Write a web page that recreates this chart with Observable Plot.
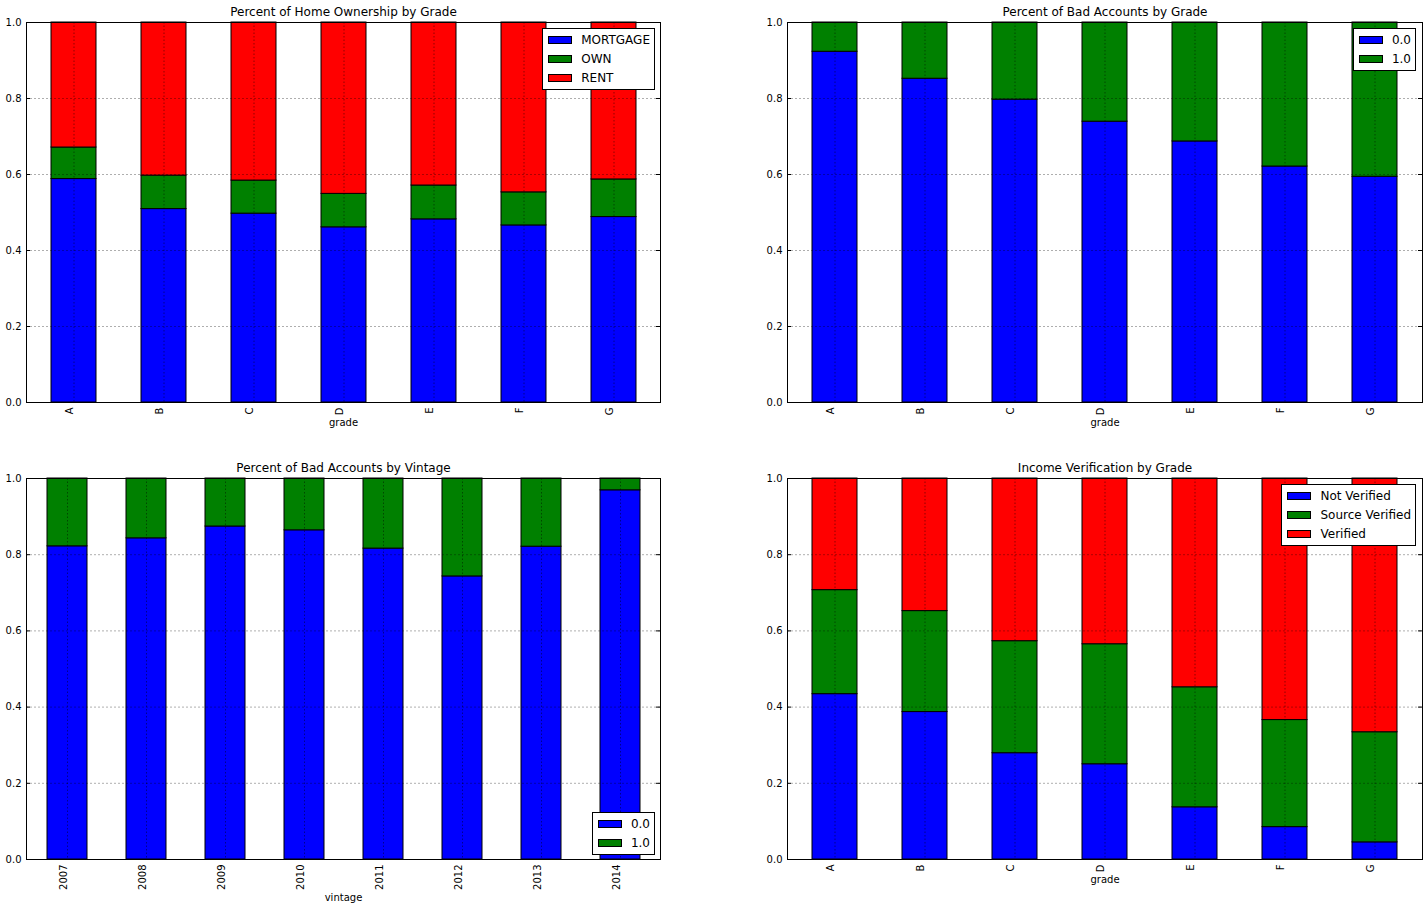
<!DOCTYPE html>
<html><head><meta charset="utf-8">
<script src="https://cdn.jsdelivr.net/npm/d3@7"></script>
<script src="https://cdn.jsdelivr.net/npm/@observablehq/plot@0.6"></script>
<style>
html,body{margin:0;padding:0;background:#fff;}
#page{position:relative;width:1428px;height:909px;overflow:hidden;font-family:"DejaVu Sans",sans-serif;background:#fff;}
.panel{position:absolute;}
.panel svg{max-width:none;}
.legend{position:absolute;background:#fff;border:1px solid #000;box-sizing:border-box;font-size:12px;color:#000;padding:1px 4px 2px 0;}
.legend .row{height:19px;display:flex;align-items:center;white-space:nowrap;}
.legend .sw{width:24px;height:8px;border:1px solid #000;box-sizing:border-box;margin-left:5px;margin-right:9px;flex:none;}
</style></head>
<body><div id="page"></div>
<script>
// ---- data ----
const grades = ["A", "B", "C", "D", "E", "F", "G"];
const vintages = ["2007", "2008", "2009", "2010", "2011", "2012", "2013", "2014"];
const yTicks = [0, 0.2, 0.4, 0.6, 0.8, 1.0];
const seriesColors = ["#0000ff", "#008000", "#ff0000"];

const homeSeries = ["MORTGAGE", "OWN", "RENT"];
const homeMortgage = [0.588, 0.509, 0.497, 0.461, 0.482, 0.466, 0.488];
const homeOwn      = [0.083, 0.088, 0.087, 0.088, 0.089, 0.087, 0.099];
const homeRent     = [0.329, 0.403, 0.416, 0.451, 0.429, 0.447, 0.413];

const badSeries = ["0.0", "1.0"];
const badGrade0 = [0.923, 0.852, 0.797, 0.739, 0.687, 0.621, 0.594];
const badGrade1 = [0.077, 0.148, 0.203, 0.261, 0.313, 0.379, 0.406];

const badVintage0 = [0.822, 0.843, 0.874, 0.864, 0.816, 0.743, 0.821, 0.969];
const badVintage1 = [0.178, 0.157, 0.126, 0.136, 0.184, 0.257, 0.179, 0.031];

const verifSeries = ["Not Verified", "Source Verified", "Verified"];
const verifNot      = [0.434, 0.387, 0.279, 0.250, 0.137, 0.085, 0.045];
const verifSource   = [0.273, 0.265, 0.294, 0.315, 0.315, 0.281, 0.289];
const verifVerified = [0.293, 0.348, 0.427, 0.435, 0.548, 0.634, 0.666];

const titles = ["Percent of Home Ownership by Grade", "Percent of Bad Accounts by Grade",
                "Percent of Bad Accounts by Vintage", "Income Verification by Grade"];
const xLabels = ["grade", "grade", "vintage", "grade"];

// ---- drawing ----
const page = document.getElementById("page");
const FONT = '"DejaVu Sans", sans-serif';

function panel(cfg) {
  const {left, top, width, height, mL, mR, mT, mB, cats, series, values, title, xLabel, xLabelDy} = cfg;
  const rows = [];
  series.forEach((s, i) => cats.forEach((c, j) => rows.push({cat: c, series: s, value: values[i][j]})));
  const fw = width - mL - mR;
  const chart = Plot.plot({
    width, height, marginLeft: mL, marginRight: mR, marginTop: mT, marginBottom: mB,
    style: {fontFamily: FONT, fontSize: "10px", background: "#fff", color: "#000", overflow: "visible"},
    x: {type: "band", domain: cats, paddingInner: 0.5, paddingOuter: 0.25, align: 0.5, label: null},
    y: {domain: [0, 1], label: null},
    color: {domain: series, range: seriesColors.slice(0, series.length)},
    marks: [
      Plot.barY(rows, {x: "cat", y: "value", fill: "series", stroke: "#000", strokeWidth: 1}),
      Plot.gridY(yTicks, {stroke: "#000", strokeOpacity: 0.4, strokeWidth: 0.8, strokeDasharray: "2,2"}),
      Plot.gridX(cats, {stroke: "#000", strokeOpacity: 0.55, strokeWidth: 0.8, strokeDasharray: "1.5,2"}),
      Plot.ruleY(yTicks, {insetRight: fw - 4, stroke: "#000"}),
      Plot.ruleY(yTicks, {insetLeft: fw - 4, stroke: "#000"}),
      Plot.frame({stroke: "#000", strokeWidth: 1}),
      Plot.axisY(yTicks, {tickSize: 0, tickPadding: 5, tickFormat: d3.format(".1f"), fontSize: 10, label: null}),
      Plot.axisX(cats, {tickSize: 0, tickPadding: 5, tickRotate: -90, dx: -4, fontSize: 10, label: null}),
      Plot.text([title], {frameAnchor: "top", dy: -7, lineAnchor: "bottom", fontSize: 12, fill: "#000"}),
      Plot.text([xLabel], {frameAnchor: "bottom", dy: xLabelDy, lineAnchor: "middle", fontSize: 10, fill: "#000"})
    ]
  });
  const div = document.createElement("div");
  div.className = "panel";
  div.style.left = left + "px";
  div.style.top = top + "px";
  div.appendChild(chart);
  page.appendChild(div);
}

function legend(series, pos) {
  const box = document.createElement("div");
  box.className = "legend";
  Object.entries(pos).forEach(([k, v]) => box.style[k] = v + "px");
  series.forEach((s, i) => {
    const row = document.createElement("div");
    row.className = "row";
    const sw = document.createElement("div");
    sw.className = "sw";
    sw.style.background = seriesColors[i];
    const lab = document.createElement("span");
    lab.textContent = s;
    row.appendChild(sw);
    row.appendChild(lab);
    box.appendChild(row);
  });
  page.appendChild(box);
}

panel({left: 0, top: 0, width: 700, height: 456, mL: 26, mR: 40, mT: 22, mB: 54,
  cats: grades, series: homeSeries, values: [homeMortgage, homeOwn, homeRent],
  title: titles[0], xLabel: xLabels[0], xLabelDy: 20});
panel({left: 761, top: 0, width: 667, height: 456, mL: 26, mR: 6, mT: 22, mB: 54,
  cats: grades, series: badSeries, values: [badGrade0, badGrade1],
  title: titles[1], xLabel: xLabels[1], xLabelDy: 20});
panel({left: 0, top: 456, width: 700, height: 453, mL: 26, mR: 40, mT: 22, mB: 50,
  cats: vintages, series: badSeries, values: [badVintage0, badVintage1],
  title: titles[2], xLabel: xLabels[2], xLabelDy: 38});
panel({left: 761, top: 456, width: 667, height: 453, mL: 26, mR: 6, mT: 22, mB: 50,
  cats: grades, series: verifSeries, values: [verifNot, verifSource, verifVerified],
  title: titles[3], xLabel: xLabels[3], xLabelDy: 20});

legend(homeSeries, {right: 1428 - 655, top: 28});
legend(badSeries, {right: 1428 - 1416, top: 28});
legend(badSeries, {right: 1428 - 655, top: 812});
legend(verifSeries, {right: 1428 - 1416, top: 484});
</script>
</body></html>
